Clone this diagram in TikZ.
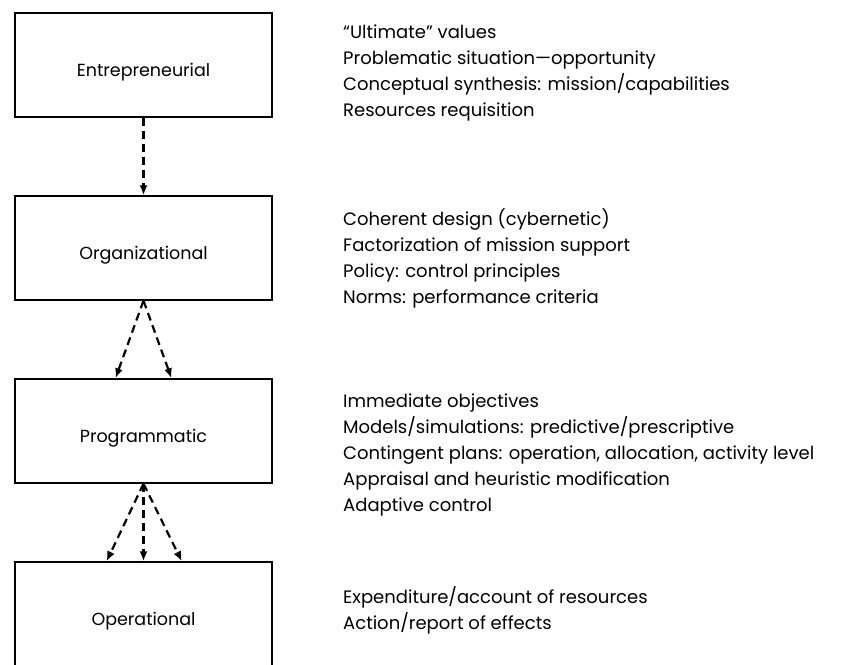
\documentclass[tikz,border=0pt]{standalone}
\usepackage{fontspec}
\setmainfont{Poppins}
\usetikzlibrary{positioning,arrows.meta}

\begin{document}
\begin{tikzpicture}[x=1pt, y=-1pt, node distance=183pt,
  level/.style={draw, rectangle, line width=1.4pt, minimum width=257pt, minimum height=104pt, text height=22pt, text depth=0pt, font=\fontsize{17.5}{20}\selectfont},
  notes/.style={anchor=base west, align=left, inner sep=0pt, font=\fontsize{18}{26}\selectfont},
  link/.style={-{Latex[length=10pt,width=8pt]}, line width=2.2pt, dash pattern=on 8pt off 5pt}]
  \useasboundingbox (0,0) rectangle (845,664);

  \node (ent) [level] at (143.5,65) {Entrepreneurial};
  \node (org) [level, below of=ent] {Organizational};
  \node (prog) [level, below of=org] {Programmatic};
  \node (oper) [level, below of=prog] {Operational};

  % the base of a note is its last line
  \node (entnotes) [notes] at (343,116) {``Ultimate'' values\\
    Problematic situation---opportunity\\
    Conceptual synthesis: mission/capabilities\\
    Resources requisition};
  \node (orgnotes) [notes] at (343,303) {Coherent design (cybernetic)\\
    Factorization of mission support\\
    Policy: control principles\\
    Norms: performance criteria};
  \node (prognotes) [notes] at (343,511) {Immediate objectives\\
    Models/simulations: predictive/prescriptive\\
    Contingent plans: operation, allocation, activity level\\
    Appraisal and heuristic modification\\
    Adaptive control};
  \node (opernotes) [notes] at (343,629) {Expenditure/account of resources\\
    Action/report of effects};

  \draw[link] (ent) -- (org);
  \draw[link] (org.south) -- (prog.118);
  \draw[link] (org.south) -- (prog.62);
  \draw[link] (prog.south) -- (oper.125);
  \draw[link] (prog.south) -- (oper.north);
  \draw[link] (prog.south) -- (oper.54);
\end{tikzpicture}
\end{document}
